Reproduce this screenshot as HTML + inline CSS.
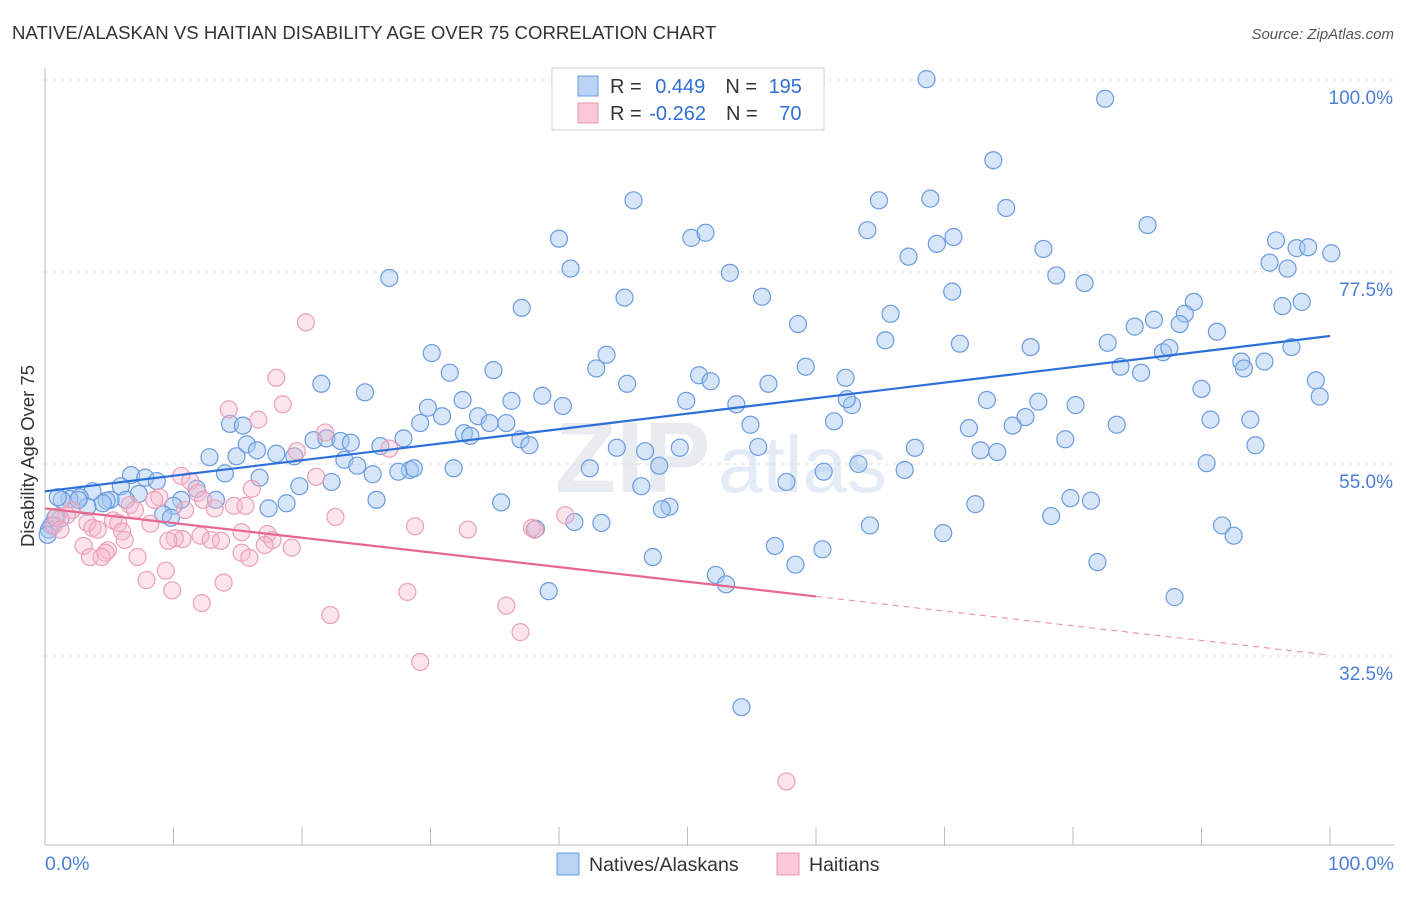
<!DOCTYPE html>
<html><head><meta charset="utf-8"><style>
body{margin:0;background:#fff;font-family:"Liberation Sans",sans-serif}
svg text{font-family:"Liberation Sans",sans-serif}
</style></head><body>
<svg id="c" width="1406" height="892">
<text x="12" y="39" font-size="18.6" fill="#333">NATIVE/ALASKAN VS HAITIAN DISABILITY AGE OVER 75 CORRELATION CHART</text>
<text x="1394" y="39" font-size="15" fill="#555" font-style="italic" text-anchor="end">Source: ZipAtlas.com</text>
<text x="555" y="492" font-size="100" fill="#e8ebf0" font-weight="bold" font-family="Liberation Serif">ZIP</text>
<text x="718" y="492" font-size="80" fill="#e2ebf6">atlas</text>
<g id="grid"></g>
<g id="marks"></g>
<text transform="translate(34,456) rotate(-90)" font-size="18.5" fill="#333" text-anchor="middle">Disability Age Over 75</text>
<text x="45" y="870" font-size="19.5" fill="#4a7fd6">0.0%</text>
<text x="1394" y="870" font-size="19.5" fill="#4a7fd6" text-anchor="end">100.0%</text>
<g>
<rect x="552" y="68" width="272" height="62" fill="#fff" stroke="#ccc"/>
<rect x="578" y="76" width="20" height="20" fill="#b9d3f5" stroke="#6a9be0"/>
<rect x="578" y="103" width="20" height="20" fill="#fac8d6" stroke="#e89ab0"/>
<text x="610" y="93" font-size="20" fill="#333">R = <tspan fill="#2f6fd6" dx="8">0.449</tspan><tspan dx="20" fill="#333">N = </tspan><tspan fill="#2f6fd6" dx="6">195</tspan></text>
<text x="610" y="120" font-size="20" fill="#333">R = <tspan fill="#2f6fd6" dx="2">-0.262</tspan><tspan dx="20" fill="#333">N = </tspan><tspan fill="#2f6fd6" dx="16">70</tspan></text>
</g>
<g>
<rect x="557" y="853" width="22" height="22" fill="#b9d3f5" stroke="#6a9be0"/>
<text x="589" y="871" font-size="19.5" fill="#333">Natives/Alaskans</text>
<rect x="777" y="853" width="22" height="22" fill="#fac8d6" stroke="#e89ab0"/>
<text x="809" y="871" font-size="19.5" fill="#333">Haitians</text>
</g>
</svg>
<script>
const yTicks=[100,77.5,55,32.5];
const yTickLabels=["100.0%","77.5%","55.0%","32.5%"];
const xTicks=[0,10,20,30,40,50,60,70,80,90,100];
const blueX=[68.6,82.5,73.8,74.8,45.8,64.9,68.9,40.0,50.3,51.4,64.0,69.4,70.7,85.8,95.8,97.4,98.3,100.1,77.7,95.3,96.7,40.9,53.3,67.2,78.7,80.9,26.8,70.6,55.8,45.1,37.1,65.8,96.3,97.8,89.4,88.7,88.3,86.3,84.8,58.6,65.4,91.2,71.2,76.7,82.7,87.0,87.5,94.9,97.0,30.1,43.7,42.9,31.5,34.9,59.2,83.7,85.3,93.1,93.3,50.9,51.8,45.3,56.3,62.3,21.5,24.9,90.0,98.9,99.2,32.5,36.3,38.7,49.9,53.8,62.8,62.4,40.3,73.3,77.3,80.2,29.8,30.9,33.7,34.6,35.9,29.2,61.4,54.9,71.9,76.3,75.3,83.4,90.7,93.8,14.4,15.4,32.6,33.1,20.9,21.9,23.0,23.8,26.1,27.9,37.0,37.7,44.5,46.7,49.4,55.5,79.4,94.2,15.7,16.5,18.0,19.4,12.8,14.9,23.3,24.3,28.4,28.7,27.5,25.5,31.8,42.4,47.8,60.6,63.3,66.9,67.7,72.8,74.1,90.4,14.0,16.7,6.7,7.8,8.7,5.9,3.7,19.8,22.3,25.8,18.8,17.4,35.5,46.4,57.7,72.4,79.8,81.4,78.3,48.6,48.0,11.8,13.3,10.6,10.0,7.3,6.3,5.1,4.8,4.5,2.7,1.9,1.3,1.0,3.3,2.6,9.2,9.8,1.2,0.5,0.3,41.2,38.2,43.3,64.2,69.9,91.6,92.5,56.8,60.5,58.4,47.3,52.2,53.0,39.2,81.9,87.9,54.2,0.2,0.8];
const blueY=[100.1,97.8,90.6,85.0,85.9,85.9,86.1,81.4,81.5,82.1,82.4,80.8,81.6,83.0,81.2,80.3,80.4,79.7,80.2,78.6,77.9,77.9,77.4,79.3,77.1,76.2,76.8,75.2,74.6,74.5,73.3,72.6,73.5,74.0,74.0,72.6,71.4,71.9,71.1,71.4,69.5,70.5,69.1,68.7,69.2,68.1,68.6,67.0,68.7,68.0,67.8,66.2,65.7,66.0,66.4,66.4,65.7,67.0,66.2,65.4,64.7,64.4,64.4,65.1,64.4,63.4,63.8,64.8,62.9,62.5,62.4,63.0,62.4,62.0,61.9,62.6,61.8,62.5,62.3,61.9,61.6,60.6,60.6,59.8,59.8,59.8,60.0,59.6,59.2,60.5,59.5,59.6,60.2,60.2,59.7,59.5,58.6,58.3,57.8,58.0,57.7,57.5,57.1,58.0,57.9,57.2,56.9,56.5,56.9,57.0,57.9,57.2,57.3,56.6,56.2,55.9,55.8,55.9,55.5,54.8,54.3,54.5,54.1,53.8,54.5,54.5,54.8,54.1,55.0,54.3,56.9,56.6,56.4,55.1,53.9,53.4,53.7,53.4,53.0,52.4,51.8,52.4,52.9,50.8,50.4,49.8,50.5,52.4,52.9,50.3,51.0,50.7,48.9,50.0,49.7,52.1,50.8,50.8,50.1,51.5,50.8,50.8,50.7,50.4,51.1,50.9,50.8,51.1,50.0,50.8,49.1,48.7,48.6,47.8,47.3,48.2,47.4,48.1,47.8,46.9,47.8,46.6,45.4,45.0,43.2,44.1,42.0,40.9,40.1,43.5,39.4,26.5,46.7,48.7];
const pinkX=[20.3,18.0,18.5,14.3,16.6,21.8,19.6,26.8,10.6,21.1,11.3,16.1,8.9,8.5,6.6,7.0,11.9,12.3,14.7,15.6,10.9,13.2,5.3,3.3,2.1,1.7,0.9,0.7,1.2,3.7,4.1,5.7,8.2,6.0,22.6,40.5,28.8,32.9,37.9,38.1,15.3,17.3,17.7,12.1,10.7,10.1,12.9,13.7,9.6,6.2,3.0,4.9,4.7,7.2,3.5,4.4,15.3,15.9,17.1,19.2,9.4,7.9,13.9,9.9,12.2,28.2,35.9,22.2,37.0,29.2,57.7];
const pinkY=[71.6,65.1,62.0,61.4,60.2,58.7,56.5,56.8,53.6,53.5,53.0,52.1,51.1,50.8,50.2,49.6,51.6,50.8,50.1,50.1,49.6,49.8,48.4,48.1,49.6,49.0,48.8,47.8,47.3,47.5,47.3,48.1,48.0,47.1,48.8,49.0,47.7,47.3,47.5,47.3,47.0,46.8,46.1,46.6,46.2,46.3,46.1,46.0,46.0,46.1,45.4,44.9,44.6,44.1,44.1,44.1,44.6,44.0,45.5,45.2,42.5,41.4,41.1,40.2,38.7,40.0,38.4,37.3,35.3,31.8,17.8];
const blueTrend=[51.8,70.0];
const pinkTrend=[49.8,32.6];
const pinkSolidEnd=60;

const X0=45,X1=1330,Y100=80,PX_PER=192/22.5;
const sx=v=>X0+(X1-X0)*v/100;
const sy=v=>Y100+(100-v)*PX_PER;
const NS="http://www.w3.org/2000/svg";
const grid=document.getElementById('grid'),marks=document.getElementById('marks');
function mk(tag,at,parent){const e=document.createElementNS(NS,tag);for(const k in at)e.setAttribute(k,at[k]);parent.appendChild(e);return e;}
yTicks.forEach((t,i)=>{
 const l=mk('line',{x1:45,x2:1394,y1:sy(t),y2:sy(t),stroke:'#ddd','stroke-dasharray':'4,4'},grid);
 
 
 const tx=mk('text',{x:1393,y:sy(t)+24,'font-size':19,fill:'#4a7fd6','text-anchor':'end'},grid);
 tx.textContent=yTickLabels[i];
 
 
});
const ax=mk('line',{x1:45,x2:45,y1:68,y2:845,stroke:'#bbb'},grid);


const bx=mk('line',{x1:45,x2:1394,y1:845,y2:845,stroke:'#bbb'},grid);


xTicks.forEach(t=>{
 const l=mk('line',{x1:sx(t),x2:sx(t),y1:827,y2:845,stroke:'#bbb'},grid);
 
 
});
blueX.forEach((x,i)=>{
 const c=mk('circle',{cx:sx(x),cy:sy(blueY[i]),r:8.5,fill:'rgba(165,199,240,0.45)',stroke:'#6b9be0','stroke-width':1.2},marks);
 
 
});
pinkX.forEach((x,i)=>{
 const c=mk('circle',{cx:sx(x),cy:sy(pinkY[i]),r:8.5,fill:'rgba(248,185,205,0.38)',stroke:'#eba0b7','stroke-width':1.2},marks);
 
 
});
const bl=mk('line',{x1:sx(0),y1:sy(blueTrend[0]),x2:sx(100),y2:sy(blueTrend[1]),stroke:'#2d6fd8','stroke-width':2.2},marks);


const pm=pinkTrend[0]+(pinkTrend[1]-pinkTrend[0])*pinkSolidEnd/100;
const pl=mk('line',{x1:sx(0),y1:sy(pinkTrend[0]),x2:sx(pinkSolidEnd),y2:sy(pm),stroke:'#e8678f','stroke-width':2.2},marks);


const pd=mk('line',{x1:sx(pinkSolidEnd),y1:sy(pm),x2:sx(100),y2:sy(pinkTrend[1]),stroke:'#e8879f','stroke-width':1,'stroke-dasharray':'6,5'},marks);


</script>
</body></html>
